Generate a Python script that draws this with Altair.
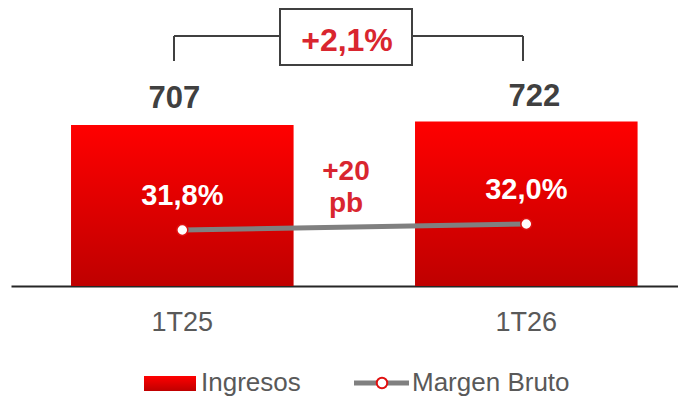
import altair as alt
import pandas as pd

# ---- data ----
periods = ["1T25", "1T26"]
ingresos = [707, 722]
margen = [31.8, 32.0]
margen_labels = ["31,8%", "32,0%"]
ingresos_labels = ["707", "722"]
growth_label = ["+2,1%"]
bps_label = ["+20\npb"]
legend_labels = ["Ingresos", "Margen Bruto"]

df = pd.DataFrame({
    "periodo": periods,
    "ingresos": ingresos,
    "margen": margen,
    "margen_txt": margen_labels,
    "ing_txt": ingresos_labels,
})

W, H = 667, 278
FONT = "Liberation Sans"
RED_TXT = "#d9262f"
GRAD = alt.Gradient(
    gradient="linear",
    stops=[alt.GradientStop(color="#ff0000", offset=0),
           alt.GradientStop(color="#bf0000", offset=1)],
    x1=0, x2=0, y1=0, y2=1,
)

x_enc = alt.X(
    "periodo:N", sort=periods,
    scale=alt.Scale(paddingInner=0.353, paddingOuter=0.146, align=0.5976),
    axis=alt.Axis(title=None, labelAngle=0, labelFont=FONT, labelFontSize=27,
                  labelColor="#595959", labelPadding=36, labelBaseline="middle",
                  ticks=False, tickSize=0, domainColor="#262626", domainWidth=2,
                  grid=False),
)
y_bar = alt.Y("ingresos:Q", scale=alt.Scale(domain=[0, 1220.8], nice=False), axis=None)
y_mar = alt.Y("margen:Q", scale=alt.Scale(domain=[29.933, 39.2], nice=False, zero=False), axis=None)

base = alt.Chart(df)

bars = base.mark_bar(color=GRAD).encode(x=x_enc, y=y_bar)
bar_txt_l = base.transform_filter(alt.datum.periodo == periods[0]).mark_text(
    font=FONT, fontSize=31, fontWeight="bold", color="#404040",
    baseline="alphabetic", dy=-17, dx=-8).encode(x=x_enc, y=y_bar, text="ing_txt:N")
bar_txt_r = base.transform_filter(alt.datum.periodo == periods[1]).mark_text(
    font=FONT, fontSize=31, fontWeight="bold", color="#404040",
    baseline="alphabetic", dy=-16, dx=8).encode(x=x_enc, y=y_bar, text="ing_txt:N")

line = base.mark_line(color="#808080", strokeWidth=5).encode(x=x_enc, y=y_mar)
pts = base.mark_point(filled=True, fill="white", stroke="#e01010", strokeWidth=1.5,
                      size=120, opacity=1, shape="circle").encode(x=x_enc, y=y_mar)
mar_txt = base.mark_text(font=FONT, fontSize=29, fontWeight="bold", color="white",
                         baseline="middle", dy=-34).encode(x=x_enc, y=y_mar, text="margen_txt:N")

# bracket annotation
seg = alt.Chart(pd.DataFrame({"a": [0]}))
bracket = alt.layer(
    seg.mark_rule(color="#404040", strokeWidth=2).encode(x=alt.value(163), y=alt.value(28), y2=alt.value(53)),
    seg.mark_rule(color="#404040", strokeWidth=2).encode(x=alt.value(163), x2=alt.value(269), y=alt.value(28)),
    seg.mark_rule(color="#404040", strokeWidth=2).encode(x=alt.value(401), x2=alt.value(512), y=alt.value(28)),
    seg.mark_rule(color="#404040", strokeWidth=2).encode(x=alt.value(512), y=alt.value(28), y2=alt.value(53)),
    seg.mark_rect(fill="white", stroke="#404040", strokeWidth=2).encode(
        x=alt.value(269), x2=alt.value(401), y=alt.value(1), y2=alt.value(57)),
)
growth_txt = alt.Chart(pd.DataFrame({"t": growth_label})).mark_text(
    font=FONT, fontSize=32, fontWeight="bold", color=RED_TXT, baseline="middle"
).encode(x=alt.value(336), y=alt.value(33), text="t:N")

bps_txt = alt.Chart(pd.DataFrame({"t": bps_label})).mark_text(
    font=FONT, fontSize=28, fontWeight="bold", color=RED_TXT, baseline="alphabetic",
    lineBreak="\n", lineHeight=32
).encode(x=alt.value(335), y=alt.value(172), text="t:N")

# legend
leg_rect = seg.mark_rect(color=GRAD).encode(
    x=alt.value(133), x2=alt.value(185), y=alt.value(368), y2=alt.value(383))
leg_t1 = alt.Chart(pd.DataFrame({"t": [legend_labels[0]]})).mark_text(
    font=FONT, fontSize=26, color="#595959", align="left", baseline="middle"
).encode(x=alt.value(190), y=alt.value(375), text="t:N")
leg_line = seg.mark_rule(color="#808080", strokeWidth=5).encode(
    x=alt.value(343), x2=alt.value(398), y=alt.value(375))
leg_pt = seg.mark_point(filled=True, fill="white", stroke="#e01010", strokeWidth=2,
                        size=110, opacity=1, shape="circle").encode(
    x=alt.value(371), y=alt.value(375))
leg_t2 = alt.Chart(pd.DataFrame({"t": [legend_labels[1]]})).mark_text(
    font=FONT, fontSize=26, color="#595959", align="left", baseline="middle"
).encode(x=alt.value(401), y=alt.value(375), text="t:N")

chart = alt.layer(
    bars, bar_txt_l, bar_txt_r, line, pts, mar_txt, bracket, growth_txt, bps_txt,
    leg_rect, leg_t1, leg_line, leg_pt, leg_t2,
).resolve_scale(y="independent").properties(
    width=W, height=H,
    background="white",
    autosize=alt.AutoSizeParams(type="none"),
    padding={"left": 3, "top": 0, "right": 0, "bottom": 113},
).configure_view(stroke=None)

chart.save("out.html", embed_options={"renderer": "svg", "actions": False})
